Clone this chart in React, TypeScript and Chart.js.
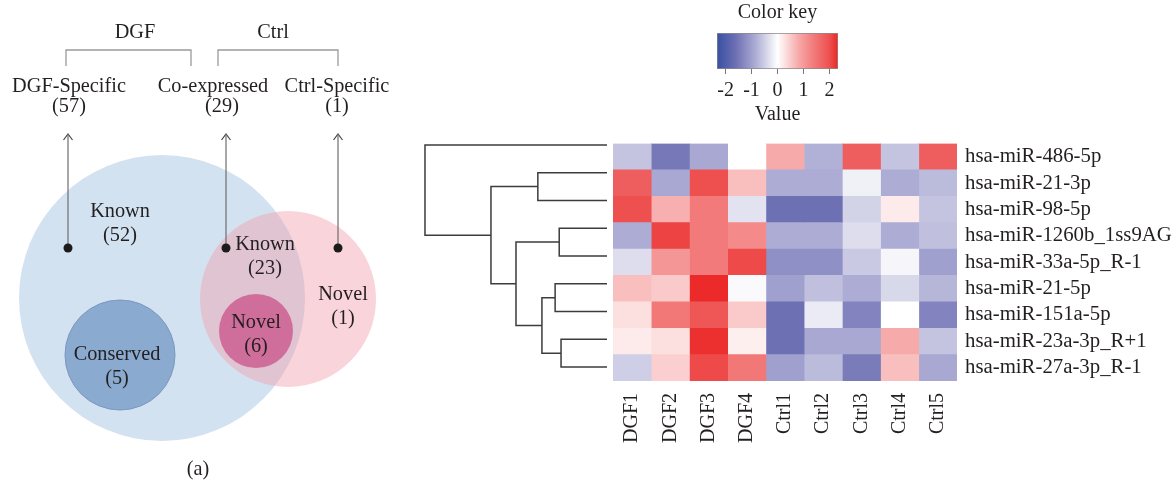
import { useEffect, useRef } from "react";
import { Chart, registerables } from "chart.js";

Chart.register(...registerables);

const FONT = "'Liberation Serif', 'Times New Roman', serif";
const INK = "#231f20";
Chart.defaults.font.family = FONT;

// ---------- Heatmap data ----------
const genes = [
  "hsa-miR-486-5p",
  "hsa-miR-21-3p",
  "hsa-miR-98-5p",
  "hsa-miR-1260b_1ss9AG",
  "hsa-miR-33a-5p_R-1",
  "hsa-miR-21-5p",
  "hsa-miR-151a-5p",
  "hsa-miR-23a-3p_R+1",
  "hsa-miR-27a-3p_R-1",
];
const samples = ["DGF1", "DGF2", "DGF3", "DGF4", "Ctrl1", "Ctrl2", "Ctrl3", "Ctrl4", "Ctrl5"];
const DGF1 = [-0.6, 1.8, 2.0, -0.85, -0.35, 0.6, 0.3, 0.2, -0.5];
const DGF2 = [-1.5, -0.9, 0.75, 2.1, 1.05, 0.5, 1.45, 0.3, 0.45];
const DGF3 = [-0.9, 2.0, 1.4, 1.4, 1.4, 2.3, 1.9, 2.25, 2.05];
const DGF4 = [0, 0.6, -0.3, 1.2, 2.05, -0.05, 0.5, 0.15, 1.45];
const Ctrl1 = [0.8, -0.85, -1.6, -0.85, -1.2, -1.0, -1.6, -1.6, -1.0];
const Ctrl2 = [-0.8, -0.85, -1.6, -0.85, -1.2, -0.65, -0.2, -0.9, -0.7];
const Ctrl3 = [1.8, -0.15, -0.45, -0.35, -0.55, -0.85, -1.35, -0.9, -1.45];
const Ctrl4 = [-0.6, -0.85, 0.2, -0.85, -0.1, -0.4, 0, 0.8, 0.6];
const Ctrl5 = [1.8, -0.7, -0.6, -0.65, -1.0, -0.75, -1.35, -0.6, -0.9];
const sampleValues = [DGF1, DGF2, DGF3, DGF4, Ctrl1, Ctrl2, Ctrl3, Ctrl4, Ctrl5];

const keyRange = [-2.33, 2.33];

// ---------- Dendrogram (hclust-style merges) ----------
const mergeA = [-8, -4, -6, 3, -2, 2, 5, -1];
const mergeB = [-9, -5, -7, 1, -3, 4, 6, 7];
const mergeHeight = [1.01, 1.05, 1.14, 1.43, 1.52, 2.0, 2.55, 4.0];

// ---------- Venn data ----------
const groupNames = ["DGF-Specific", "Co-expressed", "Ctrl-Specific"];
const groupCounts = [57, 29, 1];
const regionNames = ["Known", "Conserved", "Known", "Novel", "Novel"];
const regionCounts = [52, 5, 23, 6, 1];

// ---------- styles / layout ----------
const colorStops: [number, number[]][] = [
  [-2.33, [55, 80, 162]],
  [-1.6, [110, 112, 180]],
  [-0.85, [172, 172, 212]],
  [0, [255, 255, 255]],
  [0.2, [253, 234, 234]],
  [0.8, [247, 170, 170]],
  [1.4, [242, 122, 122]],
  [2.0, [238, 80, 80]],
  [2.33, [236, 38, 38]],
];

function valueColor(v: number): string {
  if (v <= colorStops[0][0]) return `rgb(${colorStops[0][1].join(",")})`;
  for (let i = 1; i < colorStops.length; i++) {
    const [v1, c1] = colorStops[i];
    const [v0, c0] = colorStops[i - 1];
    if (v <= v1) {
      const t = (v - v0) / (v1 - v0);
      const c = c0.map((a, k) => Math.round(a + (c1[k] - a) * t));
      return `rgb(${c.join(",")})`;
    }
  }
  return `rgb(${colorStops[colorStops.length - 1][1].join(",")})`;
}

const circleLayout = [
  { x: 162, y: 298, r: 143, fill: "#d3e2f0", stroke: "rgba(0,0,0,0)", w: 0 },
  { x: 120, y: 355, r: 55, fill: "#8aaad0", stroke: "#7b98c2", w: 1 },
  { x: 288, y: 299, r: 88, fill: "rgba(242,160,172,0.45)", stroke: "rgba(0,0,0,0)", w: 0 },
  { x: 256, y: 331, r: 37, fill: "#cf6e9a", stroke: "#cf6e9a", w: 0 },
];
const arrowX = [68, 226, 338];
const arrowTop = 134;
const dotY = 248;
const groupLabelPos = [
  { x: 69, y: 87, cx: 69 },
  { x: 213, y: 87, cx: 222 },
  { x: 337, y: 87, cx: 337 },
];
const regionLabelPos = [
  { x: 120, y: 212 },
  { x: 117, y: 355 },
  { x: 265, y: 245 },
  { x: 256, y: 323 },
  { x: 343, y: 295 },
];
const brackets = [
  { name: "DGF", x0: 66, x1: 191, tx: 135 },
  { name: "Ctrl", x0: 218, x1: 338, tx: 273 },
];

const noInteract = {
  responsive: false,
  animation: false as const,
  events: [] as any[],
  devicePixelRatio: 1,
};

function dendroSegments() {
  const nodeY: number[] = [];
  const nodeH: number[] = [];
  const segs: { x: number; y: number }[][] = [];
  const pos = (id: number) => (id < 0 ? { y: -id - 1, h: 0 } : { y: nodeY[id - 1], h: nodeH[id - 1] });
  mergeA.forEach((a, k) => {
    const A = pos(a);
    const B = pos(mergeB[k]);
    const H = mergeHeight[k];
    nodeY.push((A.y + B.y) / 2);
    nodeH.push(H);
    segs.push([
      { x: A.h, y: A.y },
      { x: H, y: A.y },
      { x: H, y: B.y },
      { x: B.h, y: B.y },
    ]);
  });
  return segs;
}

export default function App() {
  const vennRef = useRef<HTMLCanvasElement>(null);
  const dendRef = useRef<HTMLCanvasElement>(null);
  const heatRef = useRef<HTMLCanvasElement>(null);
  const keyRef = useRef<HTMLCanvasElement>(null);

  useEffect(() => {
    const charts: Chart[] = [];
    const font20 = { size: 20, family: FONT, weight: "normal" as const };
    const font21 = { size: 20.8, family: FONT, weight: "normal" as const };

    // ---------- Venn ----------
    const vennText = {
      id: "vennText",
      afterDatasetsDraw(chart: any) {
        const { ctx, scales } = chart;
        const sx = scales.x;
        const sy = scales.y;
        ctx.save();
        ctx.font = `20.3px ${FONT}`;
        ctx.fillStyle = INK;
        ctx.textAlign = "center";
        ctx.textBaseline = "middle";
        brackets.forEach((b) => {
          ctx.fillText(b.name, sx.getPixelForValue(b.tx), sy.getPixelForValue(33));
        });
        groupNames.forEach((n, i) => {
          const p = groupLabelPos[i];
          ctx.fillText(n, sx.getPixelForValue(p.x), sy.getPixelForValue(p.y));
          ctx.fillText(`(${groupCounts[i]})`, sx.getPixelForValue(p.cx), sy.getPixelForValue(p.y + 20));
        });
        regionNames.forEach((n, i) => {
          const p = regionLabelPos[i];
          ctx.fillText(n, sx.getPixelForValue(p.x), sy.getPixelForValue(p.y));
          ctx.fillText(`(${regionCounts[i]})`, sx.getPixelForValue(p.x), sy.getPixelForValue(p.y + 24));
        });
        ctx.fillText("(a)", sx.getPixelForValue(198), sy.getPixelForValue(470));
        ctx.restore();
      },
    };

    const lineDs = (pts: { x: number; y: number }[], color: string, width: number) => ({
      type: "scatter" as const,
      data: pts,
      showLine: true,
      borderColor: color,
      borderWidth: width,
      pointRadius: 0,
      fill: false,
      tension: 0,
    });

    const vennDatasets: any[] = [
      {
        type: "scatter",
        data: arrowX.map((x) => ({ x, y: dotY })),
        pointRadius: 4.5,
        backgroundColor: "#1b1b1b",
        borderWidth: 0,
      },
      ...arrowX.map((x) => lineDs([{ x, y: dotY }, { x, y: arrowTop }], "#6e6e6e", 1.2)),
      ...arrowX.map((x) =>
        lineDs(
          [
            { x: x - 4.5, y: arrowTop + 6 },
            { x, y: arrowTop },
            { x: x + 4.5, y: arrowTop + 6 },
          ],
          "#444",
          1.2
        )
      ),
      ...brackets.map((b) =>
        lineDs(
          [
            { x: b.x0, y: 66 },
            { x: b.x0, y: 50 },
            { x: b.x1, y: 50 },
            { x: b.x1, y: 66 },
          ],
          "#9a9a9a",
          1.3
        )
      ),
      {
        type: "bubble",
        data: circleLayout.map((c) => ({ x: c.x, y: c.y, r: c.r })),
        backgroundColor: circleLayout.map((c) => c.fill),
        borderColor: circleLayout.map((c) => c.stroke),
        borderWidth: circleLayout.map((c) => c.w),
        clip: false,
      },
    ];

    if (vennRef.current) {
      charts.push(
        new Chart(vennRef.current, {
          type: "scatter",
          data: { datasets: vennDatasets },
          options: {
            ...noInteract,
            layout: { padding: 0, autoPadding: false },
            plugins: { legend: { display: false }, tooltip: { enabled: false } },
            scales: {
              x: { type: "linear", min: 0, max: 420, display: false },
              y: { type: "linear", min: 0, max: 483, reverse: true, display: false },
            },
          },
          plugins: [vennText],
        } as any)
      );
    }

    // ---------- Dendrogram ----------
    if (dendRef.current) {
      charts.push(
        new Chart(dendRef.current, {
          type: "scatter",
          data: {
            datasets: dendroSegments().map((seg) => lineDs(seg, "#3c3c3c", 1.5)),
          },
          options: {
            ...noInteract,
            layout: { padding: 0, autoPadding: false },
            plugins: { legend: { display: false }, tooltip: { enabled: false } },
            scales: {
              x: { type: "linear", min: -0.066, max: 4.659, reverse: true, display: false },
              y: { type: "linear", min: -0.5, max: genes.length - 0.5, reverse: true, display: false },
            },
          },
        } as any)
      );
    }

    // ---------- Heatmap ----------
    const bLabel = {
      id: "bLabel",
      afterDraw(chart: any) {
        const { ctx, scales } = chart;
        ctx.save();
        ctx.font = `20.3px ${FONT}`;
        ctx.fillStyle = INK;
        ctx.textAlign = "center";
        ctx.textBaseline = "middle";
        ctx.fillText("(b)", scales.x.getPixelForValue(4.56), scales.x.bottom + 39);
        ctx.restore();
      },
    };
    if (heatRef.current) {
      charts.push(
        new Chart(heatRef.current, {
          type: "bar",
          data: {
            labels: genes,
            datasets: samples.map((s, j) => ({
              label: s,
              data: genes.map(() => [j, j + 1]),
              backgroundColor: sampleValues[j].map(valueColor),
              borderWidth: 0,
              barPercentage: 1,
              categoryPercentage: 1,
              grouped: false,
            })),
          },
          options: {
            ...noInteract,
            indexAxis: "y",
            layout: { padding: 0 },
            plugins: { legend: { display: false }, tooltip: { enabled: false } },
            scales: {
              x: {
                type: "linear",
                min: 0,
                max: samples.length,
                position: "bottom",
                afterBuildTicks: (s: any) => {
                  s.ticks = samples.map((_, i) => ({ value: i + 0.5 }));
                },
                ticks: {
                  autoSkip: false,
                  minRotation: 90,
                  maxRotation: 90,
                  padding: 4,
                  font: font20,
                  color: INK,
                  callback: (_v: any, i: number) => samples[i],
                },
                grid: { display: false },
                border: { display: false },
                afterFit: (s: any) => {
                  s.height = 102;
                },
              },
              y: {
                position: "right",
                ticks: { autoSkip: false, padding: 0, font: font21, color: INK },
                grid: { display: false },
                border: { display: false },
                afterFit: (s: any) => {
                  s.width = 218;
                },
              },
            },
          },
          plugins: [bLabel],
        } as any)
      );
    }

    // ---------- Color key ----------
    if (keyRef.current) {
      charts.push(
        new Chart(keyRef.current, {
          type: "bar",
          data: {
            labels: ["key"],
            datasets: [
              {
                data: [keyRange],
                backgroundColor: (c: any) => {
                  const chart = c.chart;
                  const sx = chart.scales.x;
                  if (!sx || !chart.chartArea) return "#fff";
                  const x0 = sx.getPixelForValue(keyRange[0]);
                  const x1 = sx.getPixelForValue(keyRange[1]);
                  const g = chart.ctx.createLinearGradient(x0, 0, x1, 0);
                  colorStops.forEach(([v, rgb]) => {
                    const t = Math.min(1, Math.max(0, (v - keyRange[0]) / (keyRange[1] - keyRange[0])));
                    g.addColorStop(t, `rgb(${rgb.join(",")})`);
                  });
                  return g;
                },
                borderColor: "#8a8a8a",
                borderWidth: 1,
                borderSkipped: false,
                barPercentage: 1,
                categoryPercentage: 1,
              },
            ],
          },
          options: {
            ...noInteract,
            indexAxis: "y",
            layout: { padding: { left: 17, right: 22, top: 0, bottom: 0 } },
            plugins: {
              legend: { display: false },
              tooltip: { enabled: false },
              title: {
                display: true,
                text: "Color key",
                font: font20,
                color: INK,
                padding: { top: 1, bottom: 8 },
              },
            },
            scales: {
              x: {
                type: "linear",
                min: keyRange[0],
                max: keyRange[1],
                ticks: { stepSize: 1, includeBounds: false, font: font20, color: INK, padding: 5 },
                grid: { drawOnChartArea: false, drawTicks: true, tickLength: 5, color: "#777" },
                border: { display: false },
                title: { display: true, text: "Value", font: font20, color: INK, padding: 0 },
                afterFit: (s: any) => {
                  s.height = 58;
                },
              },
              y: { display: false },
            },
          },
        } as any)
      );
    }

    return () => charts.forEach((c) => c.destroy());
  }, []);

  const abs = (left: number, top: number, width: number, height: number) =>
    ({ position: "absolute", left, top, width, height } as React.CSSProperties);

  return (
    <div style={{ position: "absolute", left: 0, top: 0, width: 1175, height: 483, background: "#fff", overflow: "hidden" }}>
      <div style={abs(0, 0, 420, 483)}>
        <canvas ref={vennRef} width={420} height={483} style={{ display: "block" }} />
      </div>
      <div style={abs(395, 131, 215, 250)}>
        <canvas ref={dendRef} width={215} height={250} style={{ display: "block" }} />
      </div>
      <div style={abs(613, 131, 562, 352)}>
        <canvas ref={heatRef} width={562} height={352} style={{ display: "block" }} />
      </div>
      <div style={abs(700, 0, 160, 127)}>
        <canvas ref={keyRef} width={160} height={127} style={{ display: "block" }} />
      </div>
    </div>
  );
}
